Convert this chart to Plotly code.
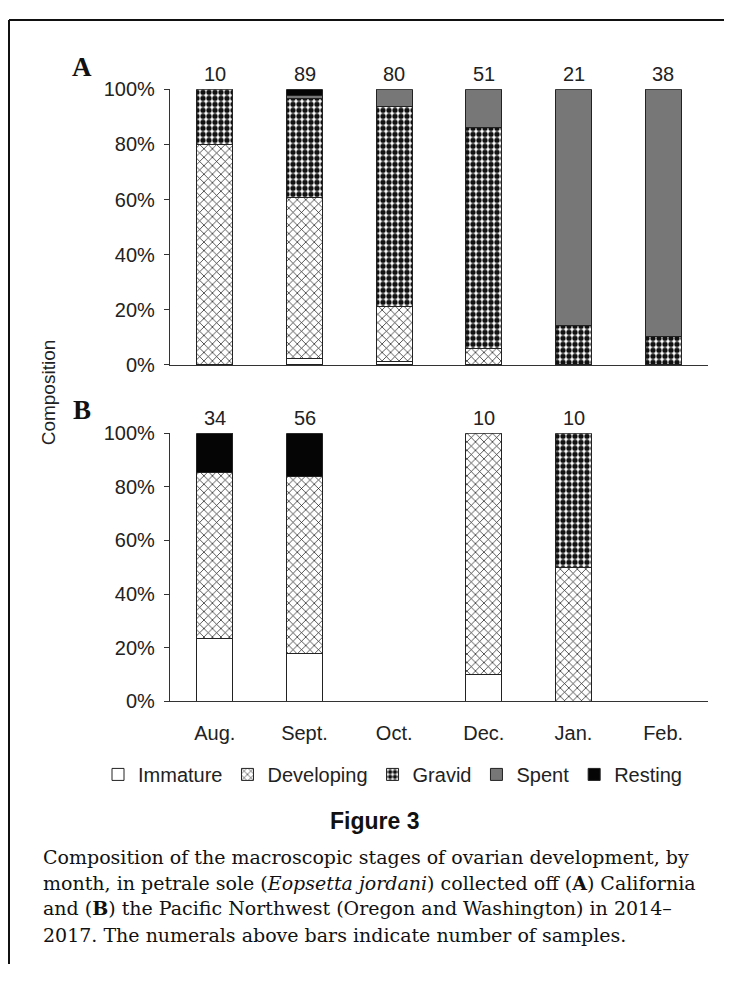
import plotly.graph_objects as go

# ---------------- data ----------------
months = ["Aug.", "Sept.", "Oct.", "Dec.", "Jan.", "Feb."]
stages = ["Immature", "Developing", "Gravid", "Spent", "Resting"]
pct_ticks = [0, 20, 40, 60, 80, 100]
pct_labels = ["0%", "20%", "40%", "60%", "80%", "100%"]

# Panel A: California (percent of samples)
a_n = [10, 89, 80, 51, 21, 38]
a_immature = [None, 2.2, 1.3, None, None, None]
a_developing = [80.0, 58.4, 20.0, 5.9, None, None]
a_gravid = [20.0, 36.0, 72.5, 80.4, 14.3, 10.5]
a_spent = [None, 1.1, 6.2, 13.7, 85.7, 89.5]
a_resting = [None, 2.3, None, None, None, None]

# Panel B: Pacific Northwest (percent of samples)
b_n = [34, 56, None, 10, 10, None]
b_immature = [23.5, 17.9, None, 10.0, None, None]
b_developing = [61.8, 66.1, None, 90.0, 50.0, None]
b_gravid = [None, None, None, None, 50.0, None]
b_spent = [None, None, None, None, None, None]
b_resting = [14.7, 16.0, None, None, None, None]

# page is offset by the default 8px body margin
OFF = 8
W, H = 716, 967


def px_x(v):
    return (v - OFF) / W


def px_y(v):
    return 1 - (v - OFF) / H


styles = {
    "Immature": dict(color="white"),
    "Developing": dict(color="white",
                       pattern=dict(shape="x", fgcolor="#111", bgcolor="white",
                                    size=6, solidity=0.22, fillmode="replace")),
    "Gravid": dict(color="white",
                   pattern=dict(shape=".", fgcolor="#111", bgcolor="white",
                                size=6, solidity=0.62, fillmode="replace")),
    "Spent": dict(color="#777777"),
    "Resting": dict(color="#050505"),
}

fig = go.Figure()
panel_a = [a_immature, a_developing, a_gravid, a_spent, a_resting]
panel_b = [b_immature, b_developing, b_gravid, b_spent, b_resting]
for name, vals in zip(stages, panel_a):
    fig.add_trace(go.Bar(x=months, y=vals, name=name, xaxis="x", yaxis="y",
                         marker=dict(**styles[name], line=dict(color="#222", width=1)),
                         showlegend=True, legendgroup=name))
for name, vals in zip(stages, panel_b):
    fig.add_trace(go.Bar(x=months, y=vals, name=name, xaxis="x2", yaxis="y2",
                         marker=dict(**styles[name], line=dict(color="#222", width=1)),
                         showlegend=False, legendgroup=name))

font_sans = "Liberation Sans, Arial, Helvetica, sans-serif"
font_serif = "DejaVu Serif, Liberation Serif, serif"

xdom = [px_x(170), px_x(708)]
ax_common = dict(type="category", range=[-0.5, 5.5], showline=True,
                 linecolor="#333", linewidth=1.2, ticks="", showgrid=False,
                 zeroline=False, tickfont=dict(family=font_sans, size=20, color="#222"),
                 domain=xdom)
ay_common = dict(range=[0, 100], tickmode="array", tickvals=pct_ticks, ticktext=pct_labels,
                 showline=True, linecolor="#333", linewidth=1.2, ticks="outside",
                 ticklen=5, tickcolor="#333", showgrid=False, zeroline=False,
                 ticklabelstandoff=5,
                 tickfont=dict(family=font_sans, size=20, color="#222"))

fig.update_layout(
    width=W, height=H,
    margin=dict(l=0, r=0, t=0, b=0),
    paper_bgcolor="white", plot_bgcolor="white",
    barmode="stack", bargap=0.6,
    xaxis=dict(**ax_common, anchor="y", showticklabels=False),
    yaxis=dict(**ay_common, anchor="x", domain=[px_y(362), px_y(80)]),
    xaxis2=dict(**ax_common, anchor="y2", showticklabels=True, ticklabelstandoff=14),
    yaxis2=dict(**ay_common, anchor="x2", domain=[px_y(706), px_y(432)]),
    legend=dict(orientation="h", x=px_x(98), y=px_y(781), xanchor="left",
                yanchor="middle", font=dict(family=font_sans, size=20, color="#222"),
                itemwidth=30, traceorder="normal", bgcolor="rgba(0,0,0,0)"),
    showlegend=True,
)

annotations = []
for m, n in zip(months, a_n):
    if n is not None:
        annotations.append(dict(x=m, y=100, xref="x", yref="y", text=str(n),
                                showarrow=False, xanchor="center", yanchor="bottom", yshift=2,
                                font=dict(family=font_sans, size=20, color="#222")))
for m, n in zip(months, b_n):
    if n is not None:
        annotations.append(dict(x=m, y=100, xref="x2", yref="y2", text=str(n),
                                showarrow=False, xanchor="center", yanchor="bottom", yshift=2,
                                font=dict(family=font_sans, size=20, color="#222")))

annotations += [
    dict(x=px_x(82), y=px_y(57), xref="paper", yref="paper", text="<b>A</b>",
         xanchor="center", yanchor="middle", showarrow=False,
         font=dict(family="Liberation Serif, serif", size=27, color="#111")),
    dict(x=px_x(82), y=px_y(408), xref="paper", yref="paper", text="<b>B</b>",
         xanchor="center", yanchor="middle", showarrow=False,
         font=dict(family="Liberation Serif, serif", size=27, color="#111")),
    dict(x=px_x(48), y=px_y(390), xref="paper", yref="paper", text="Composition",
         xanchor="center", yanchor="middle", textangle=-90, showarrow=False,
         font=dict(family=font_sans, size=19, color="#222")),
    dict(x=px_x(374), y=px_y(829), xref="paper", yref="paper", text="<b>Figure 3</b>",
         xanchor="center", yanchor="middle", showarrow=False,
         font=dict(family="Liberation Sans, Arial, sans-serif", size=23, color="#111")),
]

caption_lines = [
    "Composition of the macroscopic stages of ovarian development, by",
    "month, in petrale sole (<i>Eopsetta jordani</i>) collected off (<b>A</b>) California",
    "and (<b>B</b>) the Pacific Northwest (Oregon and Washington) in 2014–",
    "2017. The numerals above bars indicate number of samples.",
]
caption_y = [865, 892, 918, 945]
for line, yy in zip(caption_lines, caption_y):
    annotations.append(dict(x=px_x(41), y=px_y(yy), xref="paper", yref="paper",
                            text=line, showarrow=False, xanchor="left", yanchor="middle",
                            font=dict(family=font_serif, size=19, color="#111")))

fig.update_layout(annotations=annotations)

# frame (top and left edges)
fig.add_shape(type="line", xref="paper", yref="paper", x0=px_x(9), x1=1.0,
              y0=px_y(9), y1=px_y(9), line=dict(color="#111", width=2))
fig.add_shape(type="line", xref="paper", yref="paper", x0=px_x(9), x1=px_x(9),
              y0=0, y1=px_y(9), line=dict(color="#111", width=2))

fig.write_html("out.html")
